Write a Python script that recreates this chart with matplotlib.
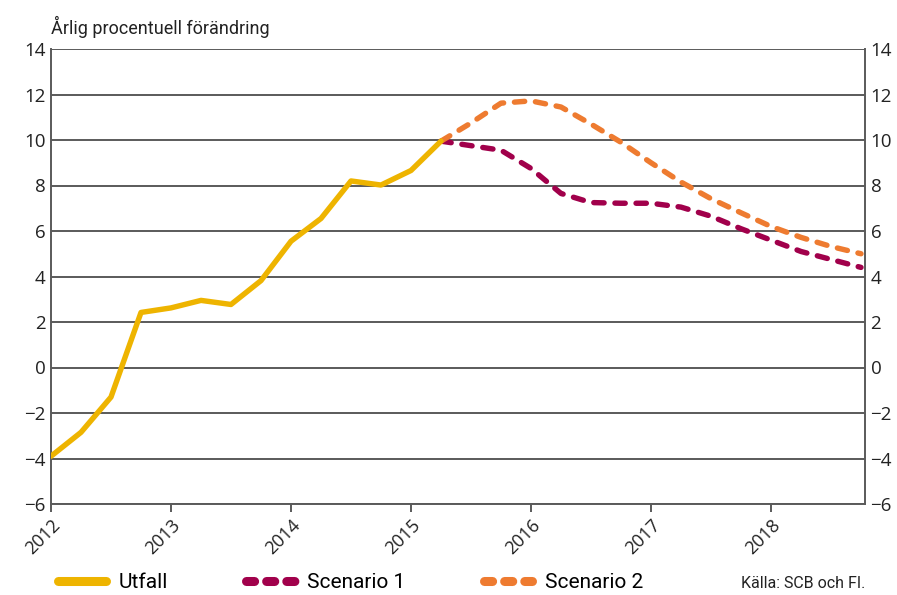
import matplotlib
matplotlib.use("Agg")
import matplotlib.pyplot as plt
from matplotlib.lines import Line2D
from matplotlib import font_manager

# Quarterly data, annual percentage change
utfall_x = [2012.0, 2012.25, 2012.5, 2012.75, 2013.0, 2013.25, 2013.5, 2013.75,
            2014.0, 2014.25, 2014.5, 2014.75, 2015.0, 2015.25]
utfall_y = [-3.9, -2.85, -1.3, 2.42, 2.62, 2.95, 2.77, 3.82,
            5.55, 6.55, 8.2, 8.02, 8.66, 9.95]

scen_x = [2015.25, 2015.5, 2015.75, 2016.0, 2016.25, 2016.5, 2016.75, 2017.0,
          2017.25, 2017.5, 2017.75, 2018.0, 2018.25, 2018.5, 2018.75]
scen1_y = [9.95, 9.75, 9.55, 8.75, 7.65, 7.25, 7.22, 7.22,
           7.05, 6.65, 6.1, 5.6, 5.1, 4.75, 4.4]
scen2_y = [9.95, 10.75, 11.62, 11.72, 11.45, 10.7, 9.9, 9.0,
           8.15, 7.42, 6.8, 6.2, 5.72, 5.32, 5.0]

year_ticks = [2012, 2013, 2014, 2015, 2016, 2017, 2018]
y_ticks = [-6, -4, -2, 0, 2, 4, 6, 8, 10, 12, 14]

c_utfall = "#EEB400"
c_s1 = "#A1004B"
c_s2 = "#EE7B30"
c_grid = "#5a5a5a"

installed = {f.name for f in font_manager.fontManager.ttflist}
narrow = "Liberation Sans Narrow" if "Liberation Sans Narrow" in installed else "Roboto"
plt.rcParams["font.family"] = ["Open Sans", "DejaVu Sans"]

fig = plt.figure(figsize=(8.97, 5.95), dpi=100)
ax = fig.add_axes([51 / 897, 1 - 504 / 595, 814 / 897, 455 / 595])

ax.set_xlim(2012, 2012 + 814 / 120)
ax.set_ylim(-6, 14)
ax.set_yticks(y_ticks)
ax.set_yticklabels([str(v).replace("-", "\u2212") for v in y_ticks])
ax.set_xticks(year_ticks)
ax.set_xticklabels([str(y) for y in year_ticks], rotation=45, ha="right",
                   rotation_mode="anchor", fontsize=13, color="#222222")

for v in y_ticks:
    ax.axhline(v, color=c_grid, lw=1.4, zorder=1)

ax.tick_params(axis="y", length=0, labelsize=13.5, labelcolor="#222222",
               labelright=True, right=False, pad=4)
ax.tick_params(axis="x", length=6, width=1.4, color=c_grid, pad=3)
for side in ("left", "right", "bottom"):
    ax.spines[side].set_color(c_grid)
    ax.spines[side].set_linewidth(1.4)
ax.spines["top"].set_visible(False)

lw = 3.9
ax.plot(utfall_x, utfall_y, color=c_utfall, lw=lw, solid_capstyle="round",
        solid_joinstyle="round", zorder=4)
ax.plot(scen_x, scen1_y, color=c_s1, lw=lw, dashes=(1.9, 2.0),
        dash_capstyle="round", dash_joinstyle="round", zorder=3)
ax.plot(scen_x, scen2_y, color=c_s2, lw=lw, dashes=(1.9, 2.0),
        dash_capstyle="round", dash_joinstyle="round", zorder=3)

fig.text(51 / 897, 1 - 27 / 595, "Årlig procentuell förändring",
         family=[narrow, "DejaVu Sans"], fontsize=13, color="#222222",
         ha="left", va="center")

handles = [
    Line2D([], [], color=c_utfall, lw=6.5, solid_capstyle="round"),
    Line2D([], [], color=c_s1, lw=6.5, dashes=(0.9, 1.33), dash_capstyle="round"),
    Line2D([], [], color=c_s2, lw=6.5, dashes=(0.9, 1.33), dash_capstyle="round"),
]
fig.legend(handles, ["Utfall", "Scenario 1", "Scenario 2"],
           loc="center left", bbox_to_anchor=(39 / 897, 1 - 583 / 595),
           ncol=3, frameon=False, handlelength=2.33, handletextpad=0.6,
           columnspacing=3.75, prop={"family": [narrow, "DejaVu Sans"], "size": 15})

fig.text(865 / 897, 1 - 583 / 595, "Källa: SCB och FI.",
         family=[narrow, "DejaVu Sans"], fontsize=11.5, color="#222222",
         ha="right", va="center")

fig.savefig("out.png", dpi=100, facecolor="white")
